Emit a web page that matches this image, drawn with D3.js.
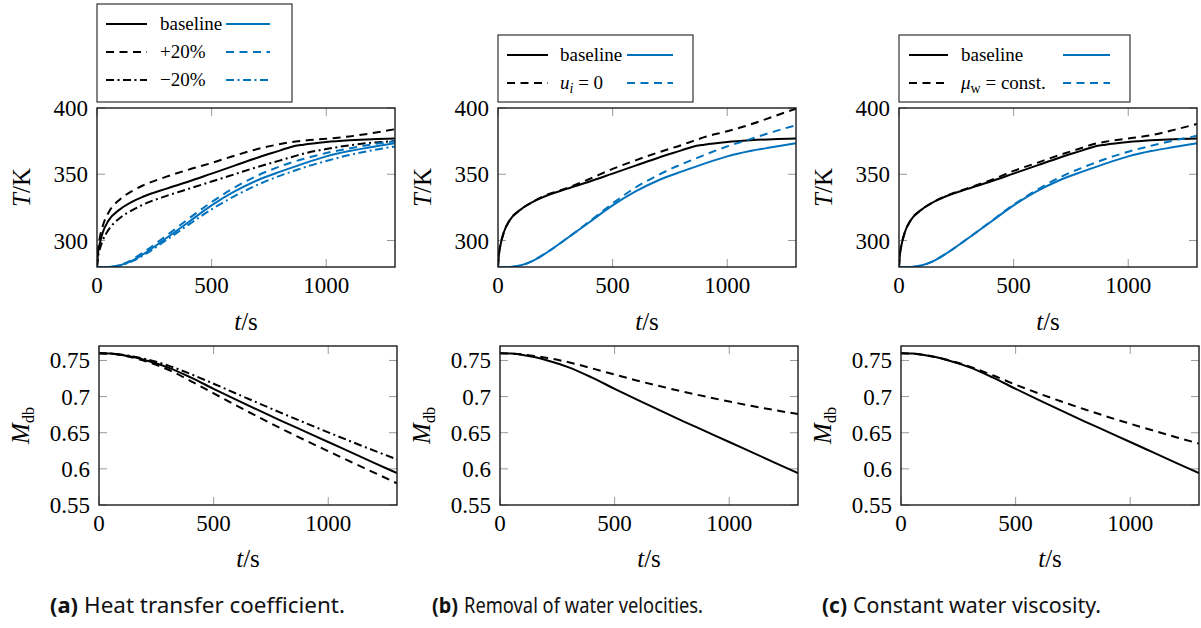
<!DOCTYPE html>
<html>
<head>
<meta charset="utf-8">
<script src="https://cdn.jsdelivr.net/npm/d3@7"></script>
<style>
  body { margin: 0; background: #fff; }
  svg { display: block; }
  .tick-label { font-family: "Liberation Serif", "DejaVu Serif", serif; font-size: 23px; fill: #000; }
  .ax-label { font-family: "Liberation Serif", "DejaVu Serif", serif; font-size: 25px; fill: #000; }
  .leg { font-family: "Liberation Serif", "DejaVu Serif", serif; font-size: 19px; fill: #000; }
  .cap { font-family: "Noto Sans", "Open Sans", sans-serif; font-size: 22px; fill: #111; }
</style>
</head>
<body>
<svg id="fig" width="1201" height="628"></svg>
<script>
// time grids (s)
const tT = [0, 5, 10, 25, 50, 100, 150, 200, 300, 400, 500, 600, 700, 800, 850, 900, 1000, 1100, 1200, 1300];
const tM = [0, 50, 100, 150, 200, 300, 400, 500, 600, 700, 800, 900, 1000, 1100, 1200, 1300];

// temperatures (K): surface (black) and core (blue)
const surfBase   = [280, 291, 296, 306, 315, 323.5, 329, 333, 339, 344.5, 350.5, 356.5, 362.5, 368, 370.8, 372.3, 374.3, 375.6, 376.5, 377];
const surfPlus   = [280, 294, 300, 311, 321, 331, 337, 341.5, 348, 353.5, 358.5, 364, 369, 372.8, 374.3, 375.3, 376.8, 378.5, 381, 384];
const surfMinus  = [280, 288, 292, 300, 308, 317, 322.5, 327, 333.5, 339, 344.5, 350, 355.5, 360.5, 363, 365.5, 369, 371.8, 373.8, 375];
const coreBase   = [280, 280, 280, 280, 280, 281.3, 284.5, 289.5, 301.5, 314, 326.5, 337, 345.5, 352, 355, 358, 363.5, 367.5, 370.5, 373.5];
const corePlus   = [280, 280, 280, 280, 280, 281.5, 285.3, 290.8, 303.3, 316.5, 329, 340, 349, 356, 359, 361.5, 366, 369.5, 372.5, 375];
const coreMinus  = [280, 280, 280, 280, 280, 281.1, 284, 288.5, 300, 312, 323.5, 333.5, 342, 349, 352, 355, 360, 364.5, 368, 371];
const surfNoVel  = [280, 291, 296, 306, 315, 323.5, 329, 333.5, 339.5, 346.5, 354, 360.5, 366.5, 372, 375, 378, 382.5, 387.5, 393.5, 399.5];
const coreNoVel  = [280, 280, 280, 280, 280, 281.3, 284.5, 289.5, 301.5, 314.5, 328, 340, 349.5, 357.5, 361, 364.5, 371, 376.5, 382, 387];
const surfConstMu = [280, 291, 296, 306, 315, 323.5, 329, 333.2, 339.5, 345.5, 352.5, 358.5, 364.5, 370, 372.8, 374.5, 377, 379.5, 383.5, 388];
const coreConstMu = [280, 280, 280, 280, 280, 281.3, 284.5, 289.5, 301.5, 314.3, 327, 338, 347.5, 355, 358.3, 361.5, 367, 371.5, 375.5, 379];

// moisture content, dry basis
const mBase    = [0.760, 0.7595, 0.7577, 0.7547, 0.7507, 0.7405, 0.7265, 0.7108, 0.6955, 0.6805, 0.6658, 0.6515, 0.6372, 0.6228, 0.6084, 0.594];
const mPlus    = [0.760, 0.7594, 0.7572, 0.7538, 0.7493, 0.7375, 0.7215, 0.7045, 0.6875, 0.671, 0.655, 0.6395, 0.6245, 0.6095, 0.5948, 0.580];
const mMinus   = [0.760, 0.7596, 0.758, 0.7555, 0.7522, 0.7432, 0.7312, 0.7178, 0.704, 0.6903, 0.6768, 0.6635, 0.6505, 0.6378, 0.6253, 0.613];
const mNoVel   = [0.760, 0.7596, 0.7583, 0.7563, 0.7538, 0.7475, 0.7392, 0.7305, 0.722, 0.7142, 0.7068, 0.6998, 0.6932, 0.687, 0.6812, 0.6758];
const mConstMu = [0.760, 0.7595, 0.7577, 0.7548, 0.751, 0.7415, 0.7295, 0.7165, 0.7045, 0.6932, 0.6825, 0.6722, 0.6624, 0.653, 0.6438, 0.635];

const xTicks = [0, 500, 1000];
const tTicks = [300, 350, 400];
const mTicks = [0.55, 0.6, 0.65, 0.7, 0.75];

const BLUE = "#0072bd";
const DASH = "8,5.5";
const DASHDOT = "8,3.5,2,3.5";

const svg = d3.select("#fig");
const W = 298;
const topY = [108, 267], botY = [346, 505];

const panels = [
  {
    left: 97, leftB: 99,
    caption: {tag: "(a)", text: "Heat transfer coefficient.", x: 50, tagW: 28, textX: 84, textW: 261},
    temp: [
      {t: tT, v: surfBase, c: "#000", d: null}, {t: tT, v: surfPlus, c: "#000", d: DASH}, {t: tT, v: surfMinus, c: "#000", d: DASHDOT},
      {t: tT, v: coreBase, c: BLUE, d: null}, {t: tT, v: corePlus, c: BLUE, d: DASH}, {t: tT, v: coreMinus, c: BLUE, d: DASHDOT}
    ],
    moist: [
      {t: tM, v: mBase, d: null}, {t: tM, v: mPlus, d: DASH}, {t: tM, v: mMinus, d: DASHDOT}
    ],
    legend: {x: 97, y: 4, w: 195, h: 98, rowY: [24, 52, 80], blackX: [106, 147], textX: 160, blueX: [226, 270],
      rows: [{lab: "baseline", d: null}, {lab: "+20%", d: DASH}, {lab: "\u221220%", d: DASHDOT}]}
  },
  {
    left: 498, leftB: 500,
    caption: {tag: "(b)", text: "Removal of water velocities.", x: 432, tagW: 26, textX: 464, textW: 239},
    temp: [
      {t: tT, v: surfBase, c: "#000", d: null}, {t: tT, v: surfNoVel, c: "#000", d: DASH},
      {t: tT, v: coreBase, c: BLUE, d: null}, {t: tT, v: coreNoVel, c: BLUE, d: DASH}
    ],
    moist: [{t: tM, v: mBase, d: null}, {t: tM, v: mNoVel, d: DASH}],
    legend: {x: 498, y: 35, w: 195, h: 67, rowY: [55, 83], blackX: [507, 548], textX: 560, blueX: [627, 673],
      rows: [{lab: "baseline", d: null}, {lab: "ui", d: DASH}]}
  },
  {
    left: 899, leftB: 901,
    caption: {tag: "(c)", text: "Constant water viscosity.", x: 822, tagW: 25, textX: 853, textW: 248},
    temp: [
      {t: tT, v: surfBase, c: "#000", d: null}, {t: tT, v: surfConstMu, c: "#000", d: DASH},
      {t: tT, v: coreBase, c: BLUE, d: null}, {t: tT, v: coreConstMu, c: BLUE, d: DASH}
    ],
    moist: [{t: tM, v: mBase, d: null}, {t: tM, v: mConstMu, d: DASH}],
    legend: {x: 899, y: 35, w: 231, h: 67, rowY: [55, 83], blackX: [909, 948], textX: 961, blueX: [1063, 1110],
      rows: [{lab: "baseline", d: null}, {lab: "mu", d: DASH}]}
  }
];

function drawAxes(g, x, y, yTicks, yFmt, yr, id) {
  const x0 = x.range()[0], x1 = x.range()[1];
  // ticks inside, mirrored
  const tk = g.append("g").attr("stroke", "#9a9a9a").attr("stroke-width", 1);
  xTicks.forEach(v => {
    tk.append("line").attr("x1", x(v)).attr("x2", x(v)).attr("y1", yr[1]).attr("y2", yr[1] - 8);
    tk.append("line").attr("x1", x(v)).attr("x2", x(v)).attr("y1", yr[0]).attr("y2", yr[0] + 8);
  });
  yTicks.forEach(v => {
    tk.append("line").attr("x1", x0).attr("x2", x0 + 8).attr("y1", y(v)).attr("y2", y(v));
    tk.append("line").attr("x1", x1).attr("x2", x1 - 8).attr("y1", y(v)).attr("y2", y(v));
  });
  g.selectAll(".xl").data(xTicks).enter().append("text")
    .attr("class", "tick-label").attr("text-anchor", "middle")
    .attr("x", d => x(d)).attr("y", yr[1] + 26).text(d => d);
  g.selectAll(".yl").data(yTicks).enter().append("text")
    .attr("class", "tick-label").attr("text-anchor", "end")
    .attr("x", x0 - 9).attr("y", d => y(d) + 8).text(yFmt);

  g.append("clipPath").attr("id", id).append("rect")
    .attr("x", x0).attr("y", yr[0]).attr("width", W).attr("height", yr[1] - yr[0]);
}

function frame(g, x0, yr) {
  g.append("rect").attr("x", x0).attr("y", yr[0]).attr("width", W).attr("height", yr[1] - yr[0])
    .attr("fill", "none").attr("stroke", "#1a1a1a").attr("stroke-width", 1.4);
}

function xLabel(g, cx, y) {
  const t = g.append("text").attr("class", "ax-label").attr("text-anchor", "middle")
    .attr("x", cx).attr("y", y);
  t.append("tspan").attr("font-style", "italic").text("t");
  t.append("tspan").text("/s");
}

panels.forEach((p, i) => {
  // ---- temperature panel
  const g = svg.append("g");
  const x = d3.scaleLinear().domain([0, 1300]).range([p.left, p.left + W]);
  const y = d3.scaleLinear().domain([280, 400]).range([topY[1], topY[0]]);
  drawAxes(g, x, y, tTicks, d => d, topY, "clipT" + i);
  const line = d3.line().curve(d3.curveMonotoneX);
  const lg = g.append("g").attr("clip-path", `url(#clipT${i})`);
  p.temp.forEach(s => {
    lg.append("path")
      .attr("d", line(s.t.map((t, k) => [x(t), y(s.v[k])])))
      .attr("fill", "none").attr("stroke", s.c).attr("stroke-width", 2)
      .attr("stroke-dasharray", s.d);
  });
  frame(g, p.left, topY);
  xLabel(g, p.left + W / 2, 330);
  const yl = g.append("text").attr("class", "ax-label").attr("text-anchor", "middle")
    .attr("transform", `translate(${p.left - 67},${(topY[0] + topY[1]) / 2}) rotate(-90)`);
  yl.append("tspan").attr("font-style", "italic").text("T");
  yl.append("tspan").text("/K");

  // ---- moisture panel
  const gb = svg.append("g");
  const xb = d3.scaleLinear().domain([0, 1300]).range([p.leftB, p.leftB + W]);
  const yb = d3.scaleLinear().domain([0.55, 0.77]).range([botY[1], botY[0]]);
  drawAxes(gb, xb, yb, mTicks, d => (d === 0.6 || d === 0.7) ? d.toFixed(1) : d.toFixed(2), botY, "clipM" + i);
  const lb = gb.append("g").attr("clip-path", `url(#clipM${i})`);
  p.moist.forEach(s => {
    lb.append("path")
      .attr("d", line(s.t.map((t, k) => [xb(t), yb(s.v[k])])))
      .attr("fill", "none").attr("stroke", "#000").attr("stroke-width", 2)
      .attr("stroke-dasharray", s.d);
  });
  frame(gb, p.leftB, botY);
  xLabel(gb, p.leftB + W / 2, 567);
  const ml = gb.append("text").attr("class", "ax-label").attr("text-anchor", "middle")
    .attr("transform", `translate(${p.leftB - 70},${(botY[0] + botY[1]) / 2}) rotate(-90)`);
  ml.append("tspan").attr("font-style", "italic").text("M");
  ml.append("tspan").attr("dy", 5).style("font-size", "16px").text("db");

  // ---- legend
  const L = p.legend;
  const leg = svg.append("g");
  leg.append("rect").attr("x", L.x).attr("y", L.y).attr("width", L.w).attr("height", L.h)
    .attr("fill", "#fff").attr("stroke", "#333").attr("stroke-width", 1.2);
  L.rows.forEach((r, k) => {
    const ry = L.rowY[k];
    leg.append("line").attr("x1", L.blackX[0]).attr("x2", L.blackX[1]).attr("y1", ry).attr("y2", ry)
      .attr("stroke", "#000").attr("stroke-width", 2).attr("stroke-dasharray", r.d);
    leg.append("line").attr("x1", L.blueX[0]).attr("x2", L.blueX[1]).attr("y1", ry).attr("y2", ry)
      .attr("stroke", BLUE).attr("stroke-width", 2).attr("stroke-dasharray", r.d);
    const tx = leg.append("text").attr("class", "leg").attr("x", L.textX).attr("y", ry + 6);
    if (r.lab === "ui") {
      tx.append("tspan").attr("font-style", "italic").text("u");
      tx.append("tspan").attr("font-style", "italic").attr("dy", 4).style("font-size", "14px").text("i");
      tx.append("tspan").attr("dy", -4).text(" = 0");
    } else if (r.lab === "mu") {
      tx.append("tspan").attr("font-style", "italic").text("\u03bc");
      tx.append("tspan").attr("dy", 4).style("font-size", "14px").text("w");
      tx.append("tspan").attr("dy", -4).text(" = const.");
    } else {
      tx.text(r.lab);
    }
  });

  // ---- caption: bold tag and text as separate runs
  const C = p.caption;
  svg.append("text").attr("class", "cap").attr("x", C.x).attr("y", 613)
    .attr("font-weight", "bold").attr("textLength", C.tagW).attr("lengthAdjust", "spacingAndGlyphs")
    .text(C.tag);
  svg.append("text").attr("class", "cap").attr("x", C.textX).attr("y", 613)
    .attr("textLength", C.textW).attr("lengthAdjust", "spacingAndGlyphs")
    .text(C.text);
});
</script>
</body>
</html>
